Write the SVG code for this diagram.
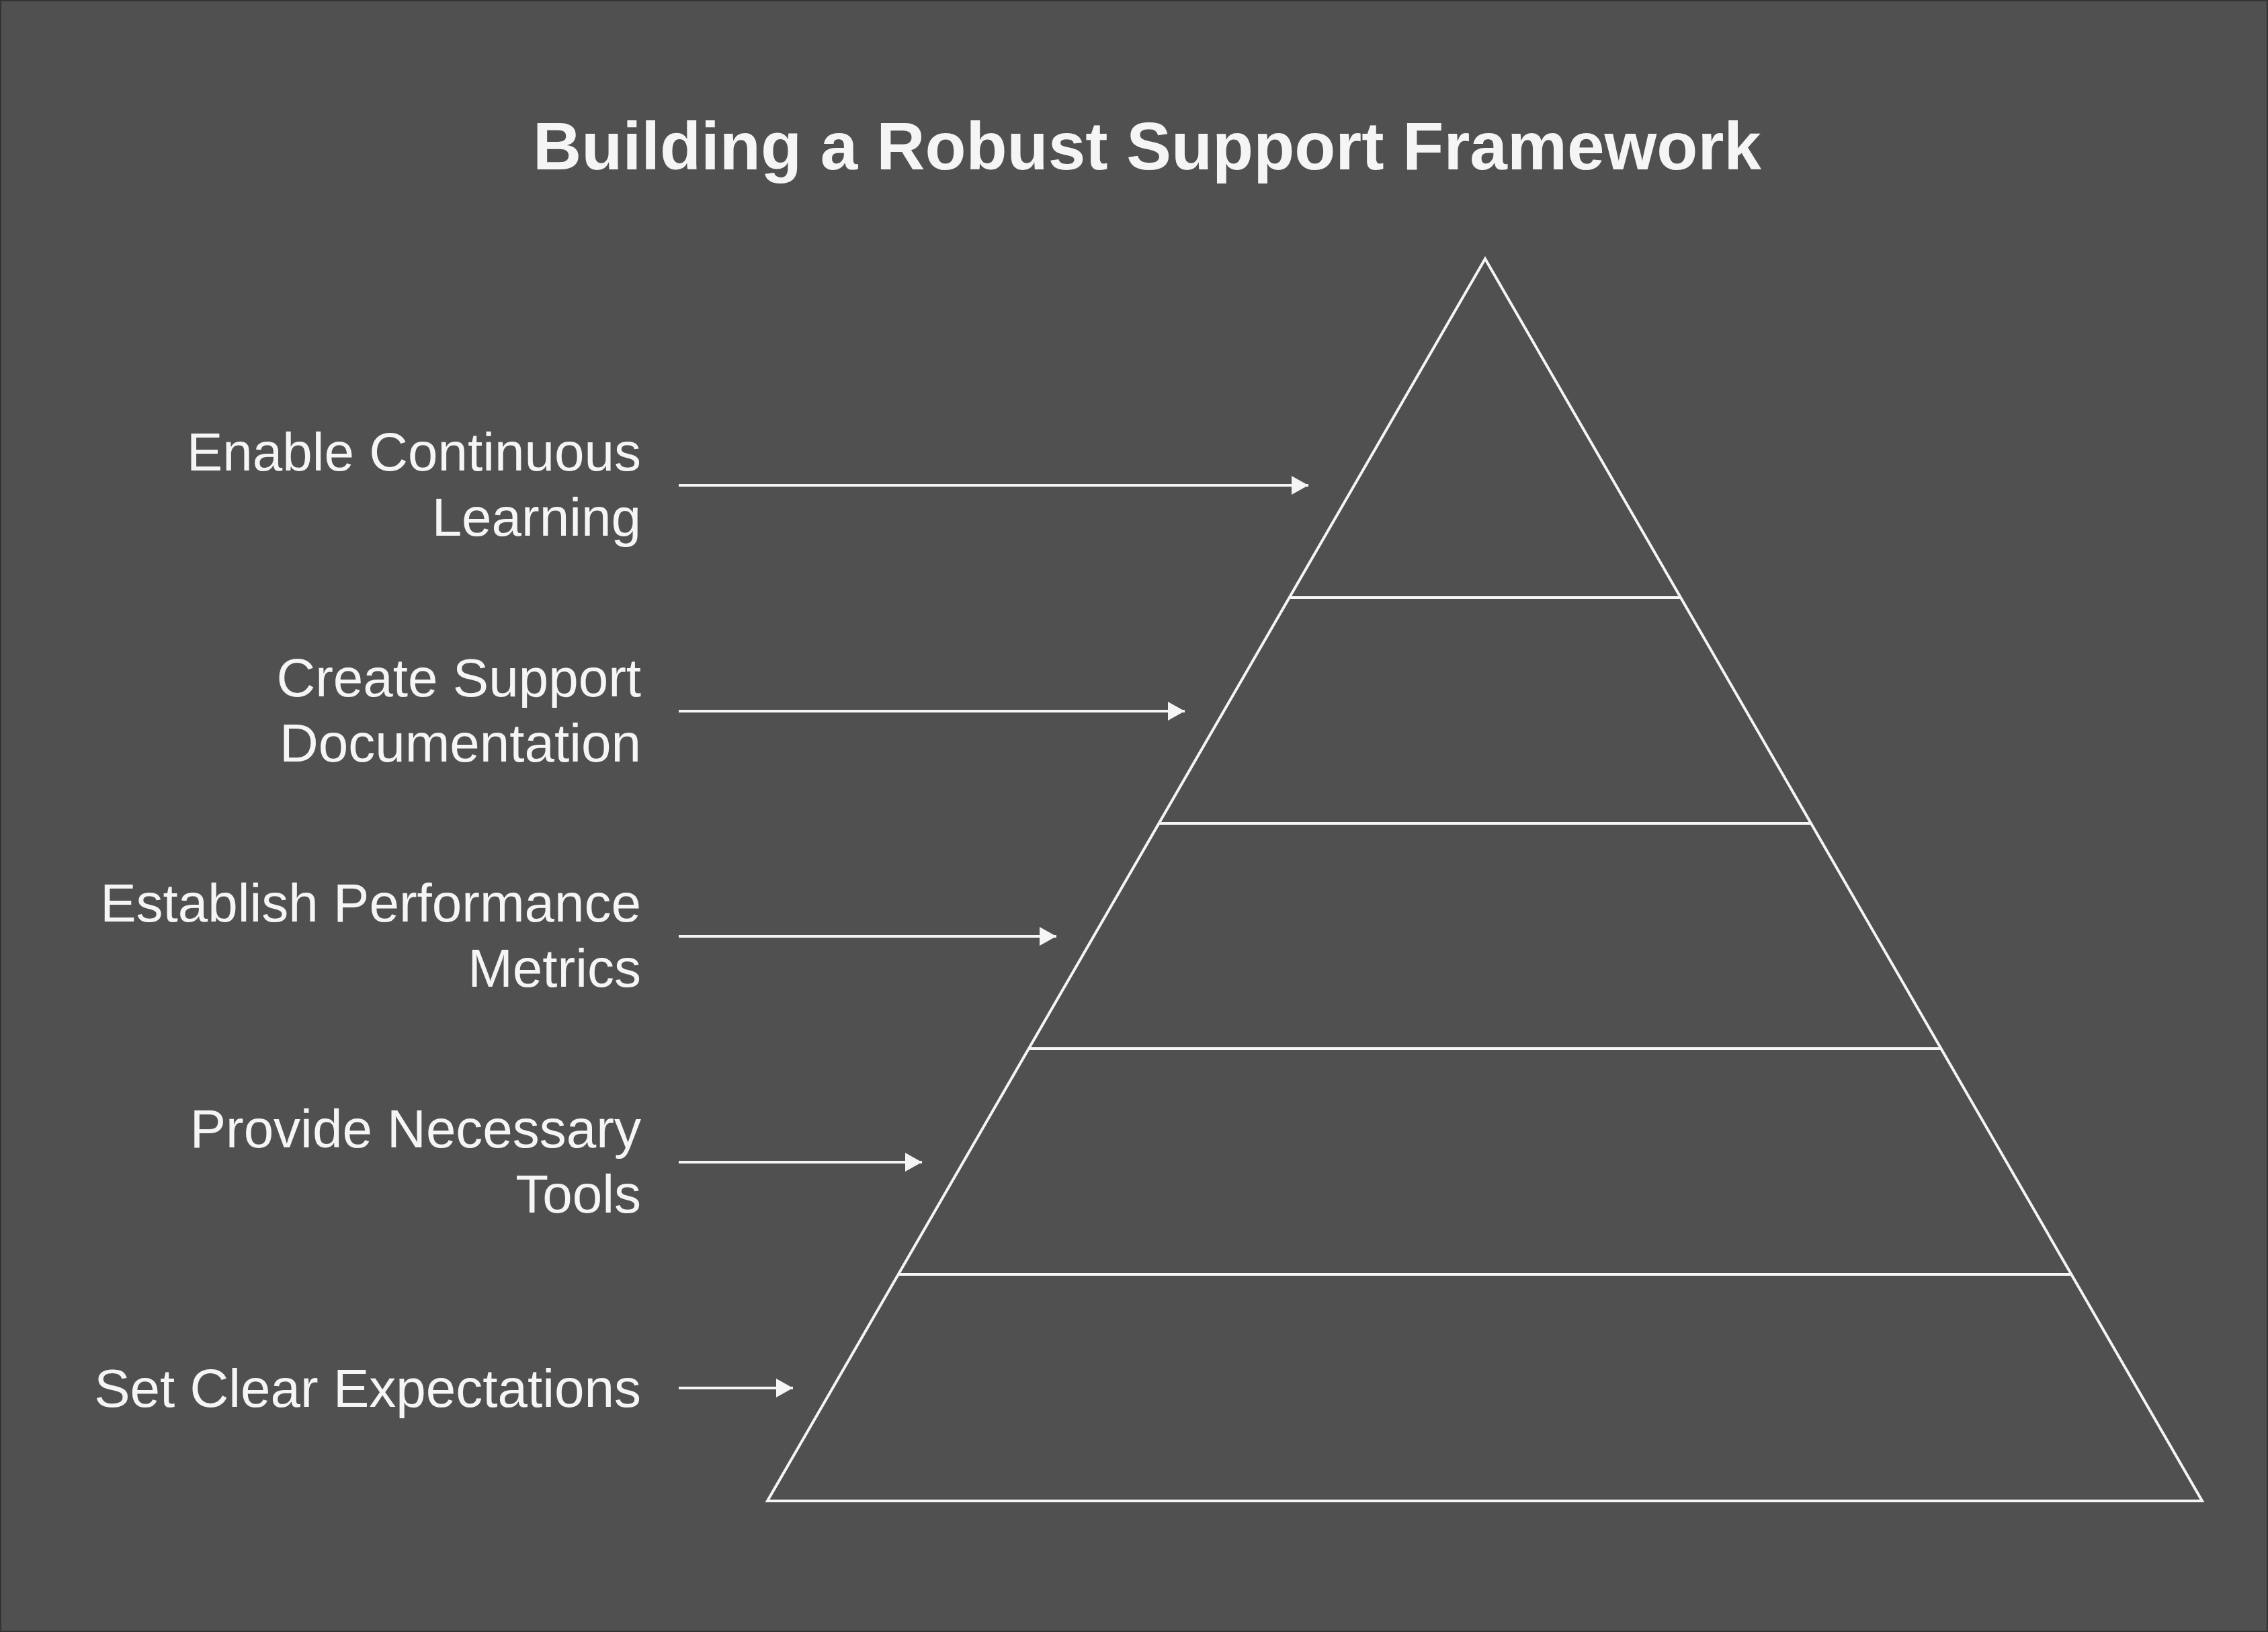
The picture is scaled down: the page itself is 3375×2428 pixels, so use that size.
<svg xmlns="http://www.w3.org/2000/svg" width="3375" height="2428" viewBox="0 0 3375 2428">
<style>
.lbl{font-family:"Liberation Sans",Arial,sans-serif;font-size:80px;fill:#f5f5f5;text-anchor:end}
.title{font-family:"Liberation Sans",Arial,sans-serif;font-size:100px;font-weight:bold;fill:#f5f5f5;text-anchor:middle}
.pyr{fill:none;stroke:#f5f5f5;stroke-width:4}
.conn{stroke:#f5f5f5;stroke-width:4;fill:none}
</style>
<defs>
<marker id="ah" markerUnits="userSpaceOnUse" markerWidth="26" markerHeight="30" refX="25" refY="14" orient="auto">
<path d="M0,0 L25,14 L0,28 Z" fill="#f5f5f5"/>
</marker>
</defs>
<rect x="0" y="0" width="3375" height="2428" fill="#333333"/>
<rect x="2" y="2" width="3371" height="2424" fill="#505050"/>
<text class="title" x="1707" y="252">Building a Robust Support Framework</text>
<g id="pyramid">
<polygon class="pyr" points="2210,385 3277,2233 1142,2233"/>
<line class="pyr" x1="1918" y1="889" x2="2502" y2="889"/>
<line class="pyr" x1="1724" y1="1225" x2="2696" y2="1225"/>
<line class="pyr" x1="1530" y1="1560" x2="2890" y2="1560"/>
<line class="pyr" x1="1336" y1="1896" x2="3084" y2="1896"/>
</g>
<g id="label1"><text class="lbl" x="954" y="700">Enable Continuous</text><text class="lbl" x="954" y="797">Learning</text></g>
<g id="label2"><text class="lbl" x="954" y="1036">Create Support</text><text class="lbl" x="954" y="1133">Documentation</text></g>
<g id="label3"><text class="lbl" x="954" y="1371">Establish Performance</text><text class="lbl" x="954" y="1468">Metrics</text></g>
<g id="label4"><text class="lbl" x="954" y="1707">Provide Necessary</text><text class="lbl" x="954" y="1804">Tools</text></g>
<g id="label5"><text class="lbl" x="954" y="2093">Set Clear Expectations</text></g>
<g id="connectors">
<line class="conn" x1="1010" y1="722" x2="1947" y2="722" marker-end="url(#ah)"/>
<line class="conn" x1="1010" y1="1058" x2="1763" y2="1058" marker-end="url(#ah)"/>
<line class="conn" x1="1010" y1="1393" x2="1572" y2="1393" marker-end="url(#ah)"/>
<line class="conn" x1="1010" y1="1729" x2="1372" y2="1729" marker-end="url(#ah)"/>
<line class="conn" x1="1010" y1="2065" x2="1180" y2="2065" marker-end="url(#ah)"/>
</g>
</svg>
